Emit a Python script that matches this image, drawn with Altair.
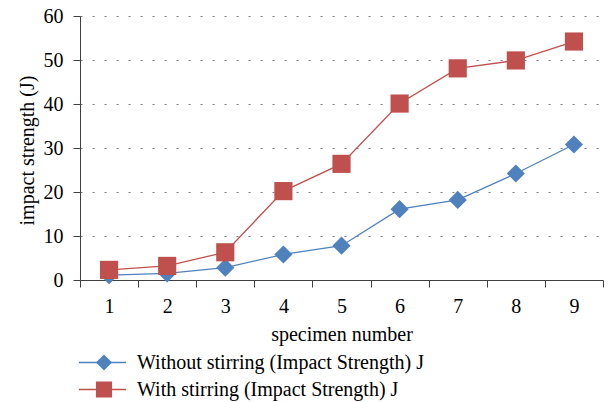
import altair as alt
import pandas as pd

specimens = [1, 2, 3, 4, 5, 6, 7, 8, 9]
without_stirring = [1.1, 1.5, 2.8, 5.8, 7.8, 16.1, 18.2, 24.2, 30.8]
with_stirring = [2.3, 3.2, 6.3, 20.2, 26.4, 40.1, 48.1, 49.9, 54.2]
series_names = ["Without stirring (Impact Strength) J", "With stirring (Impact Strength) J"]
series_keys = ["A", "B"]
series_colors = ["#4F81BD", "#C0504D"]
series_shapes = ["diamond", "square"]
y_ticks = [0, 10, 20, 30, 40, 50, 60]

rows = []
for s, k, vals in zip(series_names, series_keys, [without_stirring, with_stirring]):
    for x, v in zip(specimens, vals):
        rows.append({"specimen": x, "value": v, "series": s, "key": k})
df = pd.DataFrame(rows)

FONT = "Liberation Serif"

x_enc = alt.X(
    "specimen:O",
    bandPosition=0.5,
    scale=alt.Scale(type="band", paddingInner=0, paddingOuter=0),
    axis=alt.Axis(
        title="specimen number",
        labelAngle=0,
        tickBand="extent",
        grid=False,
        tickSize=7,
        labelPadding=9,
        titlePadding=8,
        domainColor="#404040",
        tickColor="#404040",
    ),
)
y_enc = alt.Y(
    "value:Q",
    scale=alt.Scale(domain=[0, 60], nice=False),
    axis=alt.Axis(
        title="impact strength (J)",
        values=y_ticks,
        tickSize=7,
        labelPadding=10,
        grid=True,
        gridColor="#808080",
        gridDash=[2, 10],
        gridWidth=1.2,
        domainColor="#404040",
        tickColor="#404040",
        titleX=-53,
        titleY=134,
        titleAngle=270,
        titleAlign="center",
        titleBaseline="middle",
    ),
)

base = alt.Chart(df)

line_legend = alt.Legend(
    title=None,
    orient="none",
    legendX=-2,
    legendY=333,
    labelFont=FONT,
    labelFontSize=20,
    labelColor="#000000",
    labelLimit=600,
    symbolType="stroke",
    symbolStrokeWidth=1.3,
    symbolSize=2209,
    clipHeight=27,
    rowPadding=0,
    labelOffset=10,
    padding=0,
)

marker_legend = alt.Legend(
    title=None,
    orient="none",
    legendX=14,
    legendY=333,
    labelFontSize=20,
    labelColor="transparent",
    labelLimit=600,
    symbolSize=260,
    symbolOpacity=1,
    symbolStrokeWidth=0,
    clipHeight=27,
    rowPadding=0,
    padding=0,
)

lines = base.mark_line(strokeWidth=1.3).encode(
    x=x_enc,
    y=y_enc,
    color=alt.Color("series:N", scale=alt.Scale(domain=series_names, range=series_colors), legend=line_legend),
)

points = base.mark_point(filled=True, opacity=1, size=330).encode(
    x=x_enc,
    y=y_enc,
    color=alt.Color("key:N", scale=alt.Scale(domain=series_keys, range=series_colors), legend=marker_legend),
    shape=alt.Shape("key:N", scale=alt.Scale(domain=series_keys, range=series_shapes), legend=marker_legend),
)

chart = (
    alt.layer(lines, points)
    .resolve_scale(color="independent", shape="independent")
    .properties(
        width=523,
        height=264,
        autosize=alt.AutoSizeParams(type="none"),
        padding={"left": 80, "top": 16, "right": 7, "bottom": 122},
    )
    .configure(font=FONT)
    .configure_view(stroke=None)
    .configure_axis(
        labelFont=FONT,
        labelFontSize=20,
        labelColor="#000000",
        titleFont=FONT,
        titleFontSize=20,
        titleColor="#000000",
        titleFontWeight="normal",
    )
)

chart.save("out.html", embed_options={"renderer": "svg", "actions": False})
